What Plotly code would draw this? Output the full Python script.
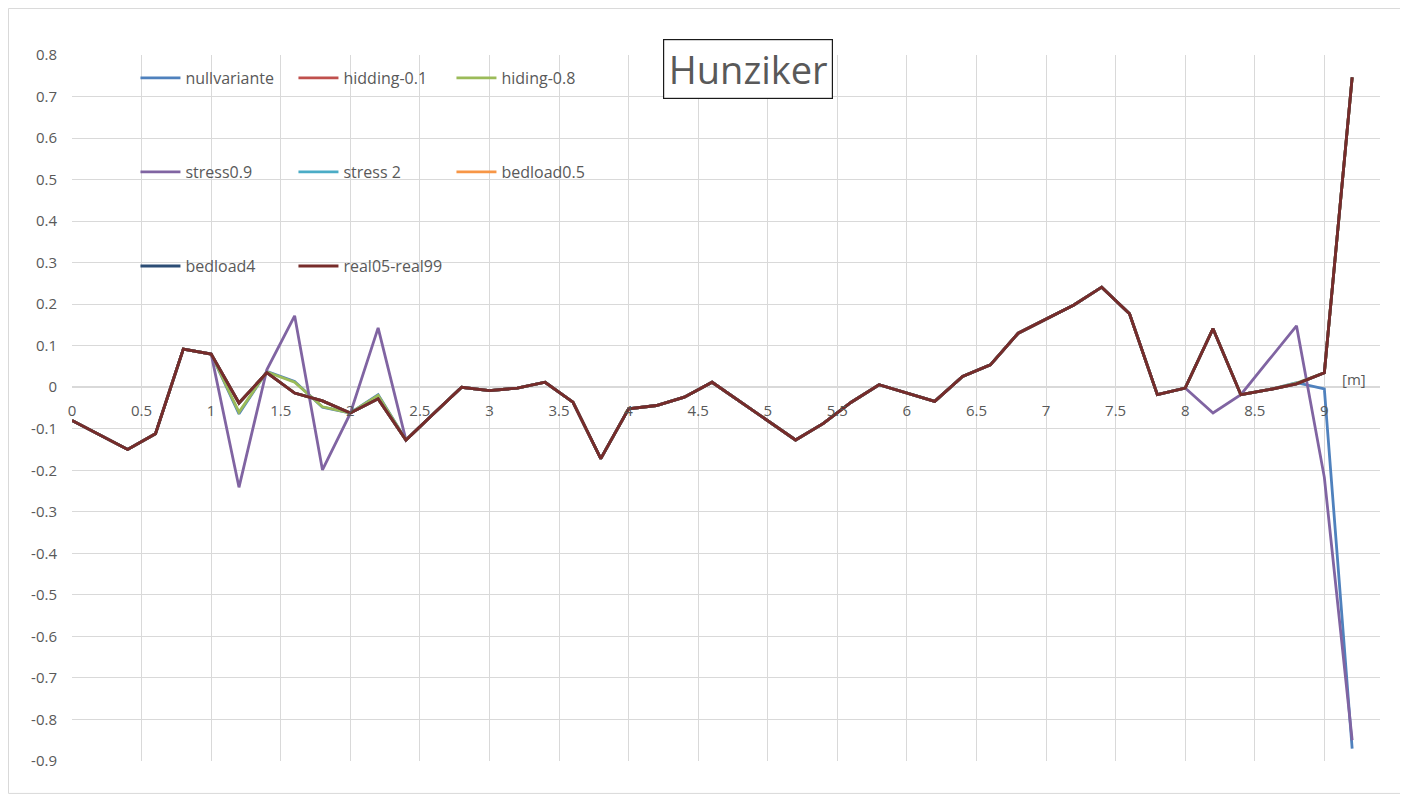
import plotly.graph_objects as go

# station along the profile [m]
x_m = [0.0, 0.2, 0.4, 0.6, 0.8, 1.0, 1.2, 1.4, 1.6, 1.8, 2.0, 2.2, 2.4, 2.6, 2.8, 3.0,
       3.2, 3.4, 3.6, 3.8, 4.0, 4.2, 4.4, 4.6, 4.8, 5.0, 5.2, 5.4, 5.6, 5.8, 6.0, 6.2,
       6.4, 6.6, 6.8, 7.0, 7.2, 7.4, 7.6, 7.8, 8.0, 8.2, 8.4, 8.6, 8.8, 9.0, 9.2]

real05_real99 = [-0.080, -0.115, -0.150, -0.112, 0.092, 0.080, -0.038, 0.035, -0.014, -0.033,
                 -0.062, -0.028, -0.127, -0.063, 0.000, -0.008, -0.002, 0.012, -0.036, -0.172,
                 -0.052, -0.044, -0.024, 0.012, -0.034, -0.080, -0.127, -0.087, -0.036, 0.006,
                 -0.014, -0.034, 0.026, 0.054, 0.130, 0.165, 0.198, 0.241, 0.177, -0.018,
                 -0.002, 0.141, -0.018, -0.006, 0.008, 0.035, 0.746]

nullvariante = [-0.080, -0.115, -0.150, -0.112, 0.092, 0.080, -0.064, 0.038, 0.014, -0.048,
                -0.062, -0.018, -0.127, -0.063, 0.000, -0.008, -0.002, 0.012, -0.036, -0.172,
                -0.052, -0.044, -0.024, 0.012, -0.034, -0.080, -0.127, -0.087, -0.036, 0.006,
                -0.014, -0.034, 0.026, 0.054, 0.130, 0.165, 0.198, 0.241, 0.177, -0.018,
                -0.002, 0.141, -0.018, -0.006, 0.011, -0.004, -0.870]

hiding_08 = [-0.080, -0.115, -0.150, -0.112, 0.092, 0.080, -0.060, 0.037, 0.012, -0.047,
             -0.062, -0.020, -0.127, -0.063, 0.000, -0.008, -0.002, 0.012, -0.036, -0.172,
             -0.052, -0.044, -0.024, 0.012, -0.034, -0.080, -0.127, -0.087, -0.036, 0.006,
             -0.014, -0.034, 0.026, 0.054, 0.130, 0.165, 0.198, 0.241, 0.177, -0.018,
             -0.002, 0.141, -0.018, -0.006, 0.010, 0.035, 0.746]

stress_09 = [-0.080, -0.115, -0.150, -0.112, 0.092, 0.080, -0.241, 0.042, 0.172, -0.199,
             -0.063, 0.143, -0.127, -0.063, 0.000, -0.008, -0.002, 0.012, -0.036, -0.172,
             -0.052, -0.044, -0.024, 0.012, -0.034, -0.080, -0.127, -0.087, -0.036, 0.006,
             -0.014, -0.034, 0.026, 0.054, 0.130, 0.165, 0.198, 0.241, 0.177, -0.018,
             -0.002, -0.062, -0.018, 0.065, 0.148, -0.217, -0.850]

# these runs coincide with real05-real99 (hidden underneath it)
hidding_01 = list(real05_real99)
stress_2 = list(real05_real99)
bedload_05 = list(real05_real99)
bedload_4 = list(real05_real99)

series = [
    ("nullvariante", nullvariante, "#4F81BD", "legend"),
    ("hidding-0.1", hidding_01, "#C0504D", "legend"),
    ("hiding-0.8", hiding_08, "#9BBB59", "legend"),
    ("stress0.9", stress_09, "#8064A2", "legend2"),
    ("stress 2", stress_2, "#4BACC6", "legend2"),
    ("bedload0.5", bedload_05, "#F79646", "legend2"),
    ("bedload4", bedload_4, "#2C4D75", "legend3"),
    ("real05-real99", real05_real99, "#772C2A", "legend3"),
]

y_ticks = [0.8, 0.7, 0.6, 0.5, 0.4, 0.3, 0.2, 0.1, 0, -0.1, -0.2, -0.3, -0.4, -0.5, -0.6, -0.7, -0.8, -0.9]
y_labels = ["0.8", "0.7", "0.6", "0.5", "0.4", "0.3", "0.2", "0.1", "0", "-0.1", "-0.2", "-0.3",
            "-0.4", "-0.5", "-0.6", "-0.7", "-0.8", "-0.9"]

FONT = "Open Sans"
GREY = "#595959"
GRID = "#D9D9D9"

fig = go.Figure()
for name, vals, col, lg in series:
    fig.add_trace(go.Scatter(x=x_m, y=vals, name=name, mode="lines",
                             line=dict(color=col, width=2.8), legend=lg))

# page puts the figure at (8, 8); plot area should sit at 72..1380 x 55..760.6 on the page
W, H = 1400, 790
pl, pt = 64, 47
pw, ph = 1308, 705.6
pr = W - pl - pw
pb = H - pt - ph
bottom = pt + ph  # in figure px


def fy(page_y):
    return (bottom - (page_y - 8)) / ph


def fx(page_x):
    return (page_x - 8 - pl) / pw


def leg(ypix):
    return dict(orientation="h", x=fx(142) - 0.005, xanchor="left",
                y=fy(ypix), yanchor="middle", entrywidth=103,
                font=dict(family=FONT, size=16, color=GREY), bgcolor="rgba(0,0,0,0)",
                traceorder="normal", itemwidth=40)


fig.update_layout(
    width=W, height=H,
    margin=dict(l=pl, r=pr, t=pt, b=pb),
    paper_bgcolor="white", plot_bgcolor="white",
    font=dict(family=FONT, size=15, color=GREY),
    legend=leg(78), legend2=leg(172), legend3=leg(266),
    xaxis=dict(range=[0, 9.4], dtick=0.5, tick0=0, showgrid=True, gridcolor=GRID,
               gridwidth=1, zeroline=False, showline=False, anchor="free",
               position=fy(386.7), ticks="", ticklabelstandoff=13,
               tickfont=dict(family=FONT, size=15, color=GREY)),
    yaxis=dict(range=[-0.9, 0.8], tickvals=y_ticks, ticktext=y_labels, showgrid=True,
               gridcolor=GRID, gridwidth=1, zeroline=True, zerolinecolor=GRID,
               zerolinewidth=1.5, showline=False, ticks="", ticklabelstandoff=14,
               tickfont=dict(family=FONT, size=15, color=GREY)),
    annotations=[
        dict(text="Hunziker", xref="paper", yref="paper", x=fx(747.7),
             y=fy(69.3), xanchor="center", yanchor="middle",
             showarrow=False, font=dict(family=FONT, size=38, color=GREY),
             bordercolor="#1a1a1a", borderwidth=1.2, bgcolor="white",
             width=164, height=54, borderpad=2),
        dict(text="[m]", xref="x", yref="y", x=9.215, y=0.021, showarrow=False,
             font=dict(family=FONT, size=15, color=GREY)),
    ],
    shapes=[
        dict(type="rect", xref="paper", yref="paper",
             x0=fx(8.5), x1=fx(1402), y0=fy(793), y1=fy(8.5),
             line=dict(color="#D9D9D9", width=1), layer="below"),
    ],
)

fig.write_html("out.html")
